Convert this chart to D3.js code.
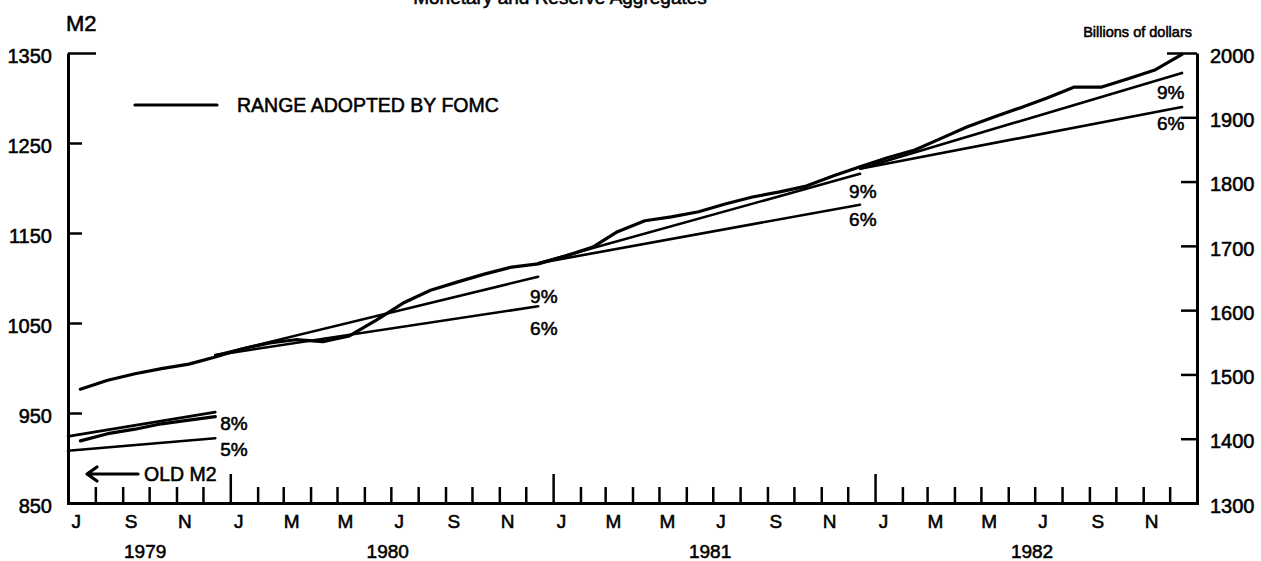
<!DOCTYPE html>
<html>
<head>
<meta charset="utf-8">
<script src="https://cdn.jsdelivr.net/npm/d3@7"></script>
<style>
  body { margin: 0; background: #fff; }
  svg { display: block; font-family: "Liberation Sans", Arial, Helvetica, sans-serif; }
  svg text { fill: #000; stroke: #000; stroke-width: 0.55px; }
  .axis path, .axis line { stroke: #000; }
  .axis path { stroke-width: 3; }
  .axis line { stroke-width: 2.5; }
  .axis text { font-size: 20px; font-family: "Liberation Sans", Arial, sans-serif; }
  .series { fill: none; stroke: #000; stroke-width: 3.2; stroke-linejoin: round; stroke-linecap: round; }
  .range { fill: none; stroke: #000; stroke-width: 2.6; stroke-linecap: round; }
  .lbl { font-size: 19px; }
</style>
</head>
<body>
<div id="chart"></div>
<script>
var width = 1261; var height = 561;

// M2 (new definition), billions of dollars, monthly averages -- right scale
var m2Months = ["1979-07","1979-08","1979-09","1979-10","1979-11","1979-12",
	"1980-01","1980-02","1980-03","1980-04","1980-05","1980-06","1980-07","1980-08","1980-09","1980-10","1980-11","1980-12",
	"1981-01","1981-02","1981-03","1981-04","1981-05","1981-06","1981-07","1981-08","1981-09","1981-10","1981-11","1981-12",
	"1982-01","1982-02","1982-03","1982-04","1982-05","1982-06","1982-07","1982-08","1982-09","1982-10","1982-11","1982-12"];
var m2Values = [1477,1491,1501,1509,1516,1527,
	1540,1549,1554,1551,1560,1585,1611,1631,1644,1656,1667,1672,
	1684,1698,1722,1739,1745,1753,1765,1776,1784,1793,1809,1823,
	1837,1849,1866,1885,1900,1915,1930,1947,1947,1960,1974,1998];

// Old M2, 1979 -- left scale
var oldM2Months = ["1979-07","1979-08","1979-09","1979-10","1979-11","1979-12"];
var oldM2Values = [919,927,932,938,942,946];

// Ranges adopted by FOMC (each one a straight line from start to end)
var rangeNames = ["8%","5%","9%","6%","9%","6%","9%","6%"];
var rangeAxis = ["left","left","right","right","right","right","right","right"];
var rangeStartDate = ["1979-07-01","1979-07-01","1979-12-15","1979-12-15","1980-12-15","1980-12-15","1981-12-15","1981-12-15"];
var rangeEndDate = ["1979-12-15","1979-12-15","1980-12-15","1980-12-15","1981-12-15","1981-12-15","1982-12-15","1982-12-15"];
var rangeStartValue = [924,908,1530,1530,1673,1673,1820,1820];
var rangeEndValue = [951,922,1652,1606,1812,1764,1969,1916];

// tick labels
var leftTicks = [850,950,1050,1150,1250,1350];
var rightTicks = [1300,1400,1500,1600,1700,1800,1900,2000];
var monthLetters = ["J","S","N","J","M","M","J","S","N","J","M","M","J","S","N","J","M","M","J","S","N"];
var years = ["1979","1980","1981","1982"];

// label offsets for the range percentages [dx, dy] from the line end
var rangeLabelOffset = [[5,18],[5,18],[-8,26],[-8,29],[-11,24],[-11,21],[-25,26],[-25,23]];

var parse = d3.timeParse("%Y-%m-%d");
function mid(m) { return parse(m + "-15"); }

var svg = d3.select("#chart").append("svg")
	.attr("width", width)
	.attr("height", height);

var x = d3.scaleTime()
	.domain([new Date(1979,6,1), new Date(1983,0,1)])
	.range([68,1197]);
var yL = d3.scaleLinear().domain([850,1350]).range([503,53]);
var yR = d3.scaleLinear().domain([1300,2000]).range([503,53]);

// Title (cut off at the top edge, as in the scan)
svg.append("text")
	.attr("x", 560).attr("y", 4)
	.attr("text-anchor","middle")
	.attr("font-size", 19)
	.text("Monetary and Reserve Aggregates");

svg.append("text").attr("x", 66).attr("y", 31).attr("font-size", 22).text("M2");
svg.append("text").attr("x", 1192).attr("y", 37).attr("font-size", 14.5)
	.attr("text-anchor","end").text("Billions of dollars");

// Axes
var gL = svg.append("g").attr("class","axis").attr("transform","translate(68,0)")
	.call(d3.axisLeft(yL).tickValues(leftTicks).tickSizeInner(-14).tickSizeOuter(0)
		.tickPadding(16).tickFormat(d3.format("d")));
gL.selectAll(".tick").filter(function(d) { return d == 1350; }).select("line").attr("x2", 28);

var gR = svg.append("g").attr("class","axis").attr("transform","translate(1197,0)")
	.call(d3.axisRight(yR).tickValues(rightTicks).tickSizeInner(-16).tickSizeOuter(0)
		.tickPadding(13).tickFormat(d3.format("d")));
gR.selectAll(".tick").filter(function(d) { return d == 2000; }).select("line").attr("x2", -30);

svg.selectAll(".axis text").attr("dy","0.46em");

var gB = svg.append("g").attr("class","axis").attr("transform","translate(0,503)")
	.call(d3.axisBottom(x).ticks(d3.timeMonth.every(1)).tickSizeInner(-16).tickSizeOuter(0).tickFormat(""));
gB.selectAll(".tick").filter(function(d) { return d.getMonth() == 0; }).select("line").attr("y2", -29);
gB.select(".domain").attr("stroke-linecap","square");

// month and year labels
var labelMonths = m2Months.filter(function(d,i) { return i % 2 == 0; });
svg.selectAll(".monthLabel")
	.data(monthLetters).enter()
	.append("text")
	.attr("class","lbl monthLabel")
	.attr("x", function(d,i) { return x(mid(labelMonths[i])) - 4; })
	.attr("y", 528)
	.attr("text-anchor","middle")
	.text(function(d) { return d; });

svg.selectAll(".yearLabel")
	.data(years).enter()
	.append("text")
	.attr("class","lbl yearLabel")
	.attr("x", function(d) {
		var a = d3.max([x.domain()[0], new Date(+d,0,1)]);
		var b = d3.min([x.domain()[1], new Date(+d + 1,0,1)]);
		return (x(a) + x(b)) / 2 - 4;
	})
	.attr("y", 558)
	.attr("text-anchor","middle")
	.text(function(d) { return d; });

// Range lines
var ranges = rangeNames.map(function(n,i) {
	var y = rangeAxis[i] == "left" ? yL : yR;
	return {
		name: n,
		x1: x(parse(rangeStartDate[i])), y1: y(rangeStartValue[i]),
		x2: x(parse(rangeEndDate[i])), y2: y(rangeEndValue[i]),
		off: rangeLabelOffset[i]
	};
});

svg.selectAll(".range")
	.data(ranges).enter()
	.append("line")
	.attr("class","range")
	.attr("x1", function(d) { return d.x1; })
	.attr("y1", function(d) { return d.y1; })
	.attr("x2", function(d) { return d.x2; })
	.attr("y2", function(d) { return d.y2; });

svg.selectAll(".rangeLabel")
	.data(ranges).enter()
	.append("text")
	.attr("class","lbl rangeLabel")
	.attr("x", function(d) { return d.x2 + d.off[0]; })
	.attr("y", function(d) { return d.y2 + d.off[1]; })
	.text(function(d) { return d.name; });

// Series
var lineR = d3.line()
	.x(function(d) { return x(mid(d[0])); })
	.y(function(d) { return yR(d[1]); });
var lineL = d3.line()
	.x(function(d) { return x(mid(d[0])); })
	.y(function(d) { return yL(d[1]); });

svg.append("path")
	.datum(d3.zip(m2Months, m2Values))
	.attr("class","series")
	.attr("d", lineR);

svg.append("path")
	.datum(d3.zip(oldM2Months, oldM2Values))
	.attr("class","series")
	.attr("d", lineL);

// Legend
svg.append("line").attr("class","series")
	.attr("x1",135).attr("x2",217).attr("y1",105).attr("y2",105);
svg.append("text").attr("x",237).attr("y",112).attr("font-size",19.5)
	.text("RANGE ADOPTED BY FOMC");

// Old M2 pointer
svg.append("path").attr("class","series").attr("stroke-width",2.5)
	.attr("d","M87,474 L138,474 M97,467 L87,474 L97,481");
svg.append("text").attr("x",144).attr("y",481).attr("font-size",19.5).text("OLD M2");
</script>
</body>
</html>
